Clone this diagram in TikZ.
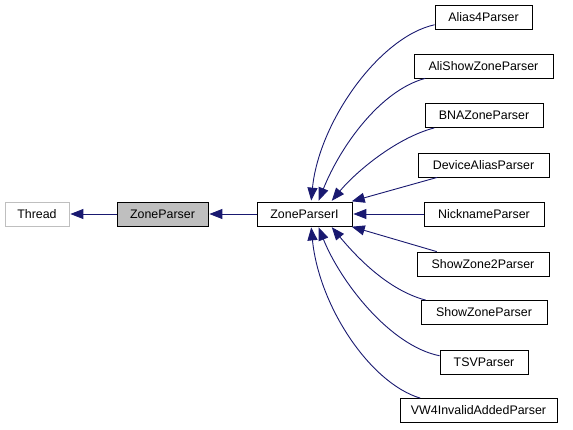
\documentclass[tikz,border=0pt]{standalone}
\usepackage{fontspec}
\setmainfont{Liberation Sans}
\usetikzlibrary{arrows.meta}
\definecolor{edgeblue}{HTML}{191970}
\definecolor{boxgray}{HTML}{BFBFBF}
\tikzset{
  cls/.style={draw=black, line width=0.8pt, fill=white, minimum height=24pt, inner sep=0pt,
    font=\fontsize{12.4}{14}\selectfont},
  ext/.style={cls, draw=boxgray},
  cur/.style={cls, fill=boxgray},
  inh/.style={draw=edgeblue, line width=0.9pt, shorten >=1pt, -{Triangle[length=13pt,width=10pt,fill=edgeblue]}},
}
\begin{document}
\begin{tikzpicture}[x=1pt,y=-1pt]
\useasboundingbox (0,0) rectangle (573,429);
\node[ext, minimum width=64pt] (th) at (37,214) {Thread};
\node[cur, minimum width=91pt] (zp) at (162.5,214) {ZoneParser};
\node[cls, minimum width=95pt] (zpi) at (304.5,214) {ZoneParserI};
\node[cls, minimum width=97pt] (a4) at (483.5,17) {Alias4Parser};
\node[cls, minimum width=139pt] (as) at (483.5,66) {AliShowZoneParser};
\node[cls, minimum width=118pt] (bna) at (484,115.5) {BNAZoneParser};
\node[cls, minimum width=131pt] (da) at (483.5,165) {DeviceAliasParser};
\node[cls, minimum width=120pt] (nn) at (484,214) {NicknameParser};
\node[cls, minimum width=132pt] (sz2) at (483,264) {ShowZone2Parser};
\node[cls, minimum width=126pt] (sz) at (484,312.5) {ShowZoneParser};
\node[cls, minimum width=88pt] (tsv) at (484,362) {TSVParser};
\node[cls, minimum width=157pt] (vw) at (478.5,410.5) {VW4InvalidAddedParser};

\draw[inh] (zp) -- (th);
\draw[inh] (zpi) -- (zp);
\draw[inh] (a4.189) .. controls +(-55,12) and +(8,-80) .. (zpi.62);
\draw[inh] (as.192) .. controls +(-45,12) and +(22,-55) .. (zpi.42);
\draw[inh] (bna.194) .. controls +(-38,10) and +(25,-30) .. (zpi.25);
\draw[inh] (da.195) -- (zpi.15);
\draw[inh] (nn) -- (zpi);
\draw[inh] (sz2.165) -- (zpi.-15);
\draw[inh] (sz.168) .. controls +(-38,-10) and +(25,30) .. (zpi.-25);
\draw[inh] (tsv.172) .. controls +(-50,-10) and +(22,55) .. (zpi.-42);
\draw[inh] (vw.168) .. controls +(-50,-15) and +(8,80) .. (zpi.-62);
\end{tikzpicture}
\end{document}
